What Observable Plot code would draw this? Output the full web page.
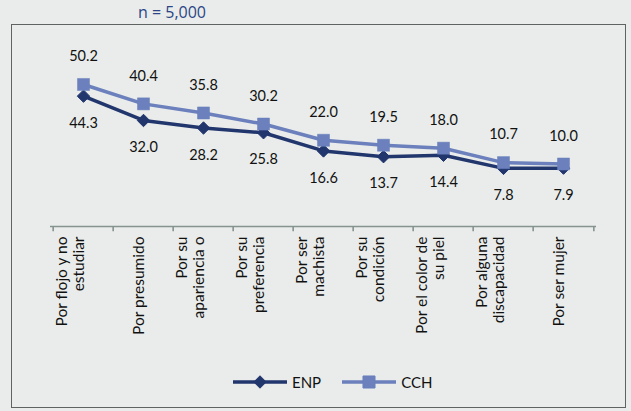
<!DOCTYPE html>
<html>
<head>
<meta charset="utf-8">
<script src="https://cdn.jsdelivr.net/npm/d3@7"></script>
<script src="https://cdn.jsdelivr.net/npm/@observablehq/plot@0.6"></script>
<style>
  html, body { margin: 0; padding: 0; }
  body { width: 631px; height: 411px; overflow: hidden; position: relative; background: #e9ecea; font-family: Lato, "Open Sans", sans-serif; }
  #title { position: absolute; left: 138px; top: 3px; font-size: 16px; line-height: 18px; color: #2b4587; font-family: "Open Sans", sans-serif; white-space: nowrap; }
  #frame { position: absolute; left: 11px; top: 24px; width: 613px; height: 382px; border: 1.5px solid #5f6463; }
  #chart { position: absolute; left: 0; top: 0; }
  #legend { position: absolute; left: 232px; top: 373px; display: flex; align-items: center; font-size: 15px; color: #111; }
  #legend .item { display: flex; align-items: center; }
  #legend svg { display: block; }
</style>
</head>
<body>
<div id="title">n = 5,000</div>
<div id="frame"></div>
<div id="chart"></div>
<div id="legend"></div>
<script>
const categories = [
  "Por flojo y no estudiar",
  "Por presumido",
  "Por su apariencia o",
  "Por su preferencia",
  "Por ser machista",
  "Por su condición",
  "Por el color de su piel",
  "Por alguna discapacidad",
  "Por ser mujer"
];
const categoryLabels = [
  "Por flojo y no\nestudiar",
  "Por presumido",
  "Por su\napariencia o",
  "Por su\npreferencia",
  "Por ser\nmachista",
  "Por su\ncondición",
  "Por el color de\nsu piel",
  "Por alguna\ndiscapacidad",
  "Por ser mujer"
];
const enpValues = [44.3, 32.0, 28.2, 25.8, 16.6, 13.7, 14.4, 7.8, 7.9];
const cchValues = [50.2, 40.4, 35.8, 30.2, 22.0, 19.5, 18.0, 10.7, 10.0];
const seriesNames = ["ENP", "CCH"];
const seriesColors = ["#22366e", "#6b80bd"];

const enp = categories.map((c, i) => ({cat: c, value: enpValues[i], series: "ENP"}));
const cch = categories.map((c, i) => ({cat: c, value: cchValues[i], series: "CCH"}));

const W = 631, H = 350, mL = 50, mR = 35, mT = 65, mB = 124;
const yMin = -21.6, yMax = 59.8;
const bw = (W - mL - mR) / categories.length;
const fmt = d3.format(".1f");

const chart = Plot.plot({
  width: W,
  height: H,
  marginLeft: mL,
  marginRight: mR,
  marginTop: mT,
  marginBottom: mB,
  style: {background: "transparent", fontFamily: "Lato, 'Open Sans', sans-serif", color: "#111"},
  x: {type: "band", domain: categories, padding: 0, axis: null},
  y: {domain: [yMin, yMax], axis: null},
  color: {domain: seriesNames, range: seriesColors},
  marks: [
    Plot.ruleY([yMin], {stroke: "#86938f", strokeWidth: 1.6}),
    Plot.ruleX(categories, {x: d => d, dx: -bw / 2, y1: yMin, y2: yMin - 2.6, stroke: "#86938f", strokeWidth: 1.6}),
    Plot.ruleX([categories[categories.length - 1]], {x: d => d, dx: bw / 2, y1: yMin, y2: yMin - 2.6, stroke: "#86938f", strokeWidth: 1.6}),
    Plot.line(enp, {x: "cat", y: "value", stroke: "series", strokeWidth: 3.5}),
    Plot.dot(enp, {x: "cat", y: "value", symbol: "diamond2", r: 5.6, fill: "series", stroke: "series", strokeWidth: 1}),
    Plot.line(cch, {x: "cat", y: "value", stroke: "series", strokeWidth: 3.5}),
    Plot.dot(cch, {x: "cat", y: "value", symbol: "square", r: 6.8, fill: "series", stroke: "series", strokeWidth: 0.5}),
    Plot.text(cch, {x: "cat", y: "value", text: d => fmt(d.value), dy: -28, fontSize: 14.5, fill: "#111"}),
    Plot.text(enp, {x: "cat", y: "value", text: d => fmt(d.value), dy: 27, fontSize: 14.5, fill: "#111"}),
    Plot.text(categoryLabels, {x: (d, i) => categories[i], text: d => d, frameAnchor: "bottom", rotate: -90, textAnchor: "end", dy: 10, fontSize: 15.5, lineHeight: 1.05, fill: "#111"})
  ]
});
document.getElementById("chart").appendChild(chart);

// Legend
const legend = document.getElementById("legend");
const symbols = ["diamond2", "square"];
const sizes = [5.6, 6.8];
seriesNames.forEach((name, i) => {
  const item = document.createElement("div");
  item.className = "item";
  item.style.marginRight = i === 0 ? "20px" : "0";
  const sw = d3.create("svg").attr("width", 56).attr("height", 16);
  sw.append("line").attr("x1", 1).attr("x2", 55).attr("y1", 8).attr("y2", 8)
    .attr("stroke", seriesColors[i]).attr("stroke-width", 3.5);
  const sym = symbols[i] === "square" ? d3.symbolSquare : d3.symbolDiamond2;
  sw.append("path").attr("transform", "translate(28,8)")
    .attr("d", d3.symbol(sym, Math.PI * sizes[i] * sizes[i])())
    .attr("fill", seriesColors[i]).attr("stroke", seriesColors[i]);
  item.appendChild(sw.node());
  const t = document.createElement("span");
  t.textContent = name;
  t.style.marginLeft = "4px";
  item.appendChild(t);
  legend.appendChild(item);
});
</script>
</body>
</html>
